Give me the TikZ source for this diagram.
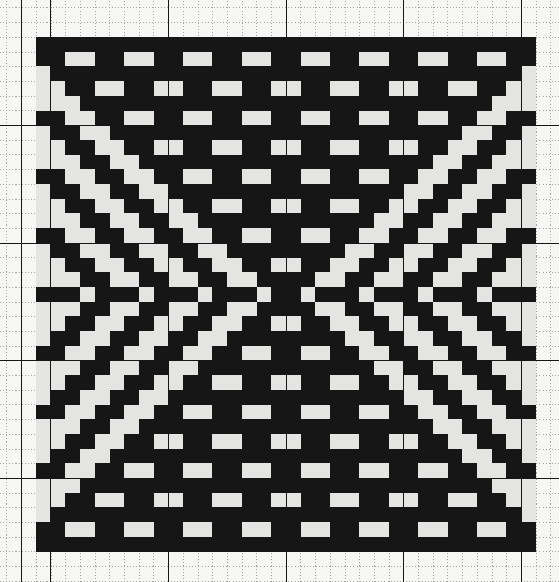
\documentclass[tikz,border=0pt]{standalone}
\usepackage{tikz}
\usetikzlibrary{calc}
\definecolor{paper}{HTML}{F6F6F4}
\definecolor{ink}{HTML}{161616}
\definecolor{yarn}{HTML}{E4E4E2}
\tikzstyle{pale} = [fill=yarn]
\tikzstyle{thinrule} = [black!35, line width=0.3pt, dash pattern=on 1pt off 2pt]
\tikzstyle{heavyrule} = [ink, line width=0.6pt]

% one pale square, repeated in the four quarters of the chart
\newcommand{\palecell}[2]{%
  \fill[pale] (#2,-#1) rectangle ++(1,-1);
  \fill[pale] ({33-#2},-#1) rectangle ++(1,-1);
  \fill[pale] (#2,{-34+#1}) rectangle ++(1,-1);
  \fill[pale] ({33-#2},{-34+#1}) rectangle ++(1,-1);
}

\begin{document}
\begin{tikzpicture}[x=0.5cm, y=0.5cm]
\fill[paper] (-2.45,2.52) rectangle (35.58,-37.07);
\useasboundingbox (-2.45,2.52) rectangle (35.58,-37.07);
\draw[thinrule, step=1] (-2.45,-37.07) grid (35.58,2.52);

% chart ground
\fill[ink] (0,0) rectangle (34,-35);

% bricks in the top and bottom triangles
\foreach \r in {1,3,...,15} {
  \pgfmathtruncatemacro{\cfirst}{\r-1}
  \pgfmathtruncatemacro{\csecond}{\r+1}
  \pgfmathtruncatemacro{\clast}{33-\r}
  \foreach \c in {\cfirst,\csecond,...,\clast} {
    \pgfmathtruncatemacro{\isodd}{mod(\c/2+(\r-1)/2,2)}
    \ifnum\isodd=1
      \fill[pale] (\c,-\r) rectangle ++(2,-1);
      \fill[pale] (\c,{-34+\r}) rectangle ++(2,-1);
    \fi
  }
}

% chevron stripes at the sides
\foreach \r in {2,...,16} {
  \pgfmathtruncatemacro{\cmax}{\r-2}
  \foreach \c in {0,...,\cmax} {
    \pgfmathtruncatemacro{\k}{mod(\r-\c,4)}
    \ifnum\k>1 \palecell{\r}{\c}\fi
  }
}
\foreach \r in {4,8,12,16} {\palecell{\r}{0}}
\foreach \c in {3,7,11,15} {\palecell{17}{\c}}

% heavy rules of the paper
\foreach \x in {-1,1,9,17,25,33} \draw[heavyrule] (\x,2.52) -- (\x,-37.07);
\foreach \y in {6,14,22,30} \draw[heavyrule] (-2.45,-\y) -- (35.58,-\y);
\end{tikzpicture}
\end{document}
